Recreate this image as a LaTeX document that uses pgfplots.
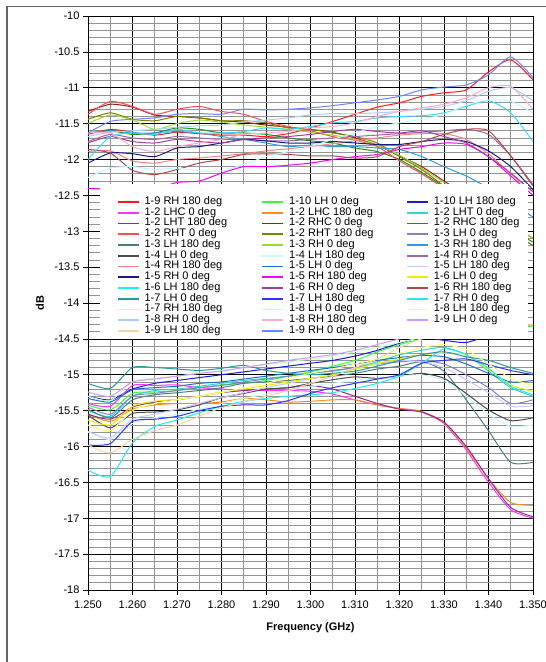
\documentclass[border=0pt]{standalone}
\usepackage{pgfplots}
\pgfplotsset{compat=1.18}
\usepackage{fontspec}
\setmainfont{Liberation Sans}
\definecolor{qB}{HTML}{FF1A1A}
\definecolor{qm}{HTML}{33FF33}
\definecolor{qj}{HTML}{1A1AD9}
\definecolor{qd}{HTML}{FF33FF}
\definecolor{qc}{HTML}{FF8C1A}
\definecolor{qt}{HTML}{33D6D6}
\definecolor{qe}{HTML}{8B2E8B}
\definecolor{qD}{HTML}{A01818}
\definecolor{qH}{HTML}{1E8C1E}
\definecolor{qC}{HTML}{FF4D4D}
\definecolor{qF}{HTML}{808000}
\definecolor{qs}{HTML}{8080CC}
\definecolor{qf}{HTML}{4D7F80}
\definecolor{qG}{HTML}{99DD33}
\definecolor{qI}{HTML}{3399DD}
\definecolor{qg}{HTML}{4D4D4D}
\definecolor{qh}{HTML}{C8FAFA}
\definecolor{qO}{HTML}{A066A0}
\definecolor{qR}{HTML}{FF8080}
\definecolor{qr}{HTML}{1A6FD0}
\definecolor{qo}{HTML}{C8C8FF}
\definecolor{qP}{HTML}{1A1A80}
\definecolor{qQ}{HTML}{FF00FF}
\definecolor{qk}{HTML}{EEEE00}
\definecolor{qb}{HTML}{1AF0F0}
\definecolor{qN}{HTML}{A040A0}
\definecolor{qE}{HTML}{B04848}
\definecolor{qa}{HTML}{2A9999}
\definecolor{qi}{HTML}{3333FF}
\definecolor{qJ}{HTML}{33DDFF}
\definecolor{qK}{HTML}{C0F8FF}
\definecolor{qn}{HTML}{C0FFC0}
\definecolor{ql}{HTML}{FFFF80}
\definecolor{qM}{HTML}{AACCFF}
\definecolor{qL}{HTML}{FFAAC8}
\definecolor{qp}{HTML}{CC99FF}
\definecolor{qq}{HTML}{FFD0A0}
\definecolor{qA}{HTML}{6688FF}
\newcommand{\legtxt}[1]{\makebox[117pt][l]{#1}}
\begin{document}
\begin{tikzpicture}
\path[use as bounding box] (0pt,0pt) rectangle (546pt,662pt);
\begin{axis}[
  at={(88pt,72pt)}, anchor=south west,
  width=445pt, height=574pt, scale only axis,
  xmin=1.25, xmax=1.35, ymin=-18, ymax=-10,
  xtick={1.25,1.26,1.27,1.28,1.29,1.30,1.31,1.32,1.33,1.34,1.35},
  xticklabels={1.250,1.260,1.270,1.280,1.290,1.300,1.310,1.320,1.330,1.340,1.350},
  ytick={-18,-17.5,-17,-16.5,-16,-15.5,-15,-14.5,-14,-13.5,-13,-12.5,-12,-11.5,-11,-10.5,-10},
  yticklabels={-18,-17.5,-17,-16.5,-16,-15.5,-15,-14.5,-14,-13.5,-13,-12.5,-12,-11.5,-11,-10.5,-10},
  minor x tick num=1, minor y tick num=4,
  grid=both,
  major grid style={black, line width=0.7pt},
  minor grid style={black!42, line width=0.7pt},
  axis line style={black, line width=0.8pt},
  tick align=outside, tick pos=left,
  major tick length=5pt, minor tick length=0pt,
  tick style={black, line width=0.7pt},
  ticklabel style={font=\fontsize{11}{13}\selectfont},
  xticklabel style={yshift=-2pt},
  xlabel={Frequency (GHz)}, ylabel={dB},
  label style={font=\bfseries\fontsize{11}{13}\selectfont},
  xlabel style={at={(axis description cs:0.5,-0.066)}, anchor=center},
  ylabel style={at={(axis description cs:-0.108,0.5)}, anchor=center},
  every axis plot/.append style={line width=1pt, smooth, tension=0.4},
  legend columns=3,
  legend cell align=left,
  legend style={at={(0.0652,0.6854)}, anchor=north west, draw=none, fill=none,
    inner sep=0pt, outer sep=0pt, row sep=0pt, column sep=0pt,
    /tikz/every odd column/.style={column sep=5pt},
    font=\fontsize{11}{13}\selectfont,
    nodes={inner sep=0pt, text height=7.9pt, text depth=2.85pt}},
  legend image code/.code={\draw[#1, line width=1.6pt] (0pt,0pt) -- (21pt,0pt);},
]
% 1-9 RH 180
\addplot[color=qB] coordinates {(1.250,-11.65)(1.255,-11.58)(1.260,-11.62)(1.265,-11.66)(1.270,-11.62)(1.275,-11.64)(1.280,-11.66)(1.285,-11.66)(1.290,-11.68)(1.295,-11.64)(1.300,-11.56)(1.305,-11.47)(1.310,-11.37)(1.315,-11.27)(1.320,-11.21)(1.325,-11.12)(1.330,-11.07)(1.335,-11.03)(1.340,-10.78)(1.345,-10.61)(1.350,-10.89)};
\addlegendentry{\legtxt{1-9 RH 180 deg}}
% 1-10 LH 0
\addplot[color=qm] coordinates {(1.250,-15.42)(1.255,-15.49)(1.260,-15.26)(1.265,-15.24)(1.270,-15.22)(1.275,-15.18)(1.280,-15.14)(1.285,-15.12)(1.290,-15.08)(1.295,-15.02)(1.300,-14.96)(1.305,-14.88)(1.310,-14.80)(1.315,-14.68)(1.320,-14.58)(1.325,-14.50)(1.330,-14.45)(1.335,-14.42)(1.340,-14.38)(1.345,-14.35)(1.350,-14.32)};
\addlegendentry{\legtxt{1-10 LH 0 deg}}
% 1-10 LH 180
\addplot[color=qj] coordinates {(1.250,-15.30)(1.255,-15.35)(1.260,-15.20)(1.265,-15.12)(1.270,-15.08)(1.275,-15.04)(1.280,-15.00)(1.285,-14.96)(1.290,-14.92)(1.295,-14.88)(1.300,-14.84)(1.305,-14.80)(1.310,-14.74)(1.315,-14.66)(1.320,-14.56)(1.325,-14.48)(1.330,-14.52)(1.335,-14.55)(1.340,-14.45)(1.345,-14.35)(1.350,-14.30)};
\addlegendentry{\legtxt{1-10 LH 180 deg}}
% 1-2 LHC 0
\addplot[color=qd] coordinates {(1.250,-15.40)(1.255,-15.44)(1.260,-15.15)(1.265,-15.15)(1.270,-15.14)(1.275,-15.18)(1.280,-15.20)(1.285,-15.22)(1.290,-15.22)(1.295,-15.22)(1.300,-15.23)(1.305,-15.27)(1.310,-15.35)(1.315,-15.42)(1.320,-15.47)(1.325,-15.52)(1.330,-15.68)(1.335,-16.05)(1.340,-16.50)(1.345,-16.88)(1.350,-17.00)};
\addlegendentry{\legtxt{1-2 LHC 0 deg}}
% 1-2 LHC 180
\addplot[color=qc] coordinates {(1.250,-15.55)(1.255,-15.65)(1.260,-15.48)(1.265,-15.42)(1.270,-15.40)(1.275,-15.40)(1.280,-15.38)(1.285,-15.33)(1.290,-15.35)(1.295,-15.38)(1.300,-15.37)(1.305,-15.35)(1.310,-15.35)(1.315,-15.42)(1.320,-15.47)(1.325,-15.51)(1.330,-15.67)(1.335,-16.02)(1.340,-16.45)(1.345,-16.78)(1.350,-16.82)};
\addlegendentry{\legtxt{1-2 LHC 180 deg}}
% 1-2 LHT 0
\addplot[color=qt] coordinates {(1.250,-15.50)(1.255,-15.58)(1.260,-15.30)(1.265,-15.22)(1.270,-15.20)(1.275,-15.16)(1.280,-15.12)(1.285,-15.08)(1.290,-15.05)(1.295,-15.02)(1.300,-14.98)(1.305,-14.95)(1.310,-14.90)(1.315,-14.82)(1.320,-14.72)(1.325,-14.66)(1.330,-14.62)(1.335,-14.72)(1.340,-14.95)(1.345,-15.18)(1.350,-15.30)};
\addlegendentry{\legtxt{1-2 LHT 0 deg}}
% 1-2 LHT 180
\addplot[color=qe] coordinates {(1.250,-15.55)(1.255,-15.62)(1.260,-15.45)(1.265,-15.38)(1.270,-15.35)(1.275,-15.30)(1.280,-15.25)(1.285,-15.22)(1.290,-15.20)(1.295,-15.18)(1.300,-15.15)(1.305,-15.20)(1.310,-15.30)(1.315,-15.40)(1.320,-15.48)(1.325,-15.52)(1.330,-15.66)(1.335,-16.00)(1.340,-16.45)(1.345,-16.85)(1.350,-16.98)};
\addlegendentry{\legtxt{1-2 LHT 180 deg}}
% 1-2 RHC 0
\addplot[color=qD] coordinates {(1.250,-11.33)(1.255,-11.23)(1.260,-11.27)(1.265,-11.38)(1.270,-11.40)(1.275,-11.42)(1.280,-11.46)(1.285,-11.48)(1.290,-11.52)(1.295,-11.55)(1.300,-11.58)(1.305,-11.62)(1.310,-11.70)(1.315,-11.80)(1.320,-11.95)(1.325,-12.10)(1.330,-12.30)(1.335,-12.50)(1.340,-12.70)(1.345,-12.90)(1.350,-13.10)};
\addlegendentry{\legtxt{1-2 RHC 0 deg}}
% 1-2 RHC 180
\addplot[color=qH] coordinates {(1.250,-11.63)(1.255,-11.60)(1.260,-11.65)(1.265,-11.63)(1.270,-11.56)(1.275,-11.58)(1.280,-11.63)(1.285,-11.63)(1.290,-11.65)(1.295,-11.70)(1.300,-11.74)(1.305,-11.77)(1.310,-11.84)(1.315,-11.89)(1.320,-12.00)(1.325,-12.18)(1.330,-12.38)(1.335,-12.58)(1.340,-12.78)(1.345,-12.98)(1.350,-13.15)};
\addlegendentry{\legtxt{1-2 RHC 180 deg}}
% 1-2 RHT 0
\addplot[color=qC] coordinates {(1.250,-11.37)(1.255,-11.19)(1.260,-11.26)(1.265,-11.37)(1.270,-11.30)(1.275,-11.26)(1.280,-11.33)(1.285,-11.37)(1.290,-11.47)(1.295,-11.54)(1.300,-11.60)(1.305,-11.68)(1.310,-11.73)(1.315,-11.82)(1.320,-12.02)(1.325,-12.20)(1.330,-12.40)(1.335,-12.60)(1.340,-12.80)(1.345,-13.00)(1.350,-13.20)};
\addlegendentry{\legtxt{1-2 RHT 0 deg}}
% 1-2 RHT 180
\addplot[color=qF] coordinates {(1.250,-11.44)(1.255,-11.35)(1.260,-11.44)(1.265,-11.46)(1.270,-11.40)(1.275,-11.42)(1.280,-11.46)(1.285,-11.46)(1.290,-11.49)(1.295,-11.56)(1.300,-11.58)(1.305,-11.63)(1.310,-11.68)(1.315,-11.77)(1.320,-11.96)(1.325,-12.14)(1.330,-12.37)(1.335,-12.60)(1.340,-12.80)(1.345,-13.00)(1.350,-13.20)};
\addlegendentry{\legtxt{1-2 RHT 180 deg}}
% 1-3 LH 0
\addplot[color=qs] coordinates {(1.250,-15.45)(1.255,-15.55)(1.260,-15.30)(1.265,-15.26)(1.270,-15.22)(1.275,-15.18)(1.280,-15.15)(1.285,-15.10)(1.290,-15.06)(1.295,-15.02)(1.300,-14.98)(1.305,-14.94)(1.310,-14.90)(1.315,-14.85)(1.320,-14.82)(1.325,-14.80)(1.330,-14.85)(1.335,-15.00)(1.340,-15.18)(1.345,-15.40)(1.350,-15.35)};
\addlegendentry{\legtxt{1-3 LH 0 deg}}
% 1-3 LH 180
\addplot[color=qf] coordinates {(1.250,-15.48)(1.255,-15.60)(1.260,-15.35)(1.265,-15.28)(1.270,-15.25)(1.275,-15.22)(1.280,-15.18)(1.285,-15.12)(1.290,-15.10)(1.295,-15.08)(1.300,-15.05)(1.305,-15.02)(1.310,-14.98)(1.315,-14.92)(1.320,-14.88)(1.325,-14.82)(1.330,-14.95)(1.335,-15.35)(1.340,-15.78)(1.345,-16.22)(1.350,-16.22)};
\addlegendentry{\legtxt{1-3 LH 180 deg}}
% 1-3 RH 0
\addplot[color=qG] coordinates {(1.250,-11.50)(1.255,-11.38)(1.260,-11.45)(1.265,-11.58)(1.270,-11.50)(1.275,-11.45)(1.280,-11.48)(1.285,-11.52)(1.290,-11.55)(1.295,-11.58)(1.300,-11.62)(1.305,-11.66)(1.310,-11.72)(1.315,-11.80)(1.320,-11.94)(1.325,-12.12)(1.330,-12.32)(1.335,-12.52)(1.340,-12.72)(1.345,-12.92)(1.350,-13.10)};
\addlegendentry{\legtxt{1-3 RH 0 deg}}
% 1-3 RH 180
\addplot[color=qI] coordinates {(1.250,-11.63)(1.255,-11.60)(1.260,-11.63)(1.265,-11.63)(1.270,-11.61)(1.275,-11.63)(1.280,-11.68)(1.285,-11.72)(1.290,-11.77)(1.295,-11.82)(1.300,-11.80)(1.305,-11.82)(1.310,-11.82)(1.315,-11.84)(1.320,-11.86)(1.325,-11.96)(1.330,-12.10)(1.335,-12.23)(1.340,-12.40)(1.345,-12.60)(1.350,-12.80)};
\addlegendentry{\legtxt{1-3 RH 180 deg}}
% 1-4 LH 0
\addplot[color=qg] coordinates {(1.250,-15.56)(1.255,-15.74)(1.260,-15.54)(1.265,-15.52)(1.270,-15.49)(1.275,-15.42)(1.280,-15.32)(1.285,-15.26)(1.290,-15.20)(1.295,-15.18)(1.300,-15.12)(1.305,-15.07)(1.310,-15.03)(1.315,-15.05)(1.320,-15.02)(1.325,-14.98)(1.330,-15.05)(1.335,-15.26)(1.340,-15.49)(1.345,-15.64)(1.350,-15.60)};
\addlegendentry{\legtxt{1-4 LH 0 deg}}
% 1-4 LH 180
\addplot[color=qh] coordinates {(1.250,-15.80)(1.255,-15.90)(1.260,-15.68)(1.265,-15.60)(1.270,-15.55)(1.275,-15.48)(1.280,-15.40)(1.285,-15.33)(1.290,-15.27)(1.295,-15.22)(1.300,-15.16)(1.305,-15.12)(1.310,-15.08)(1.315,-15.06)(1.320,-15.02)(1.325,-15.00)(1.330,-15.08)(1.335,-15.30)(1.340,-15.55)(1.345,-15.72)(1.350,-15.70)};
\addlegendentry{\legtxt{1-4 LH 180 deg}}
% 1-4 RH 0
\addplot[color=qO] coordinates {(1.250,-11.75)(1.255,-11.65)(1.260,-11.70)(1.265,-11.72)(1.270,-11.68)(1.275,-11.70)(1.280,-11.72)(1.285,-11.72)(1.290,-11.74)(1.295,-11.74)(1.300,-11.72)(1.305,-11.70)(1.310,-11.68)(1.315,-11.66)(1.320,-11.64)(1.325,-11.62)(1.330,-11.60)(1.335,-11.58)(1.340,-11.65)(1.345,-11.95)(1.350,-12.35)};
\addlegendentry{\legtxt{1-4 RH 0 deg}}
% 1-4 RH 180
\addplot[color=qR] coordinates {(1.250,-11.89)(1.255,-11.88)(1.260,-12.02)(1.265,-12.05)(1.270,-12.00)(1.275,-11.98)(1.280,-11.95)(1.285,-11.92)(1.290,-11.88)(1.295,-11.85)(1.300,-11.82)(1.305,-11.78)(1.310,-11.74)(1.315,-11.70)(1.320,-11.66)(1.325,-11.64)(1.330,-11.64)(1.335,-11.72)(1.340,-11.92)(1.345,-12.20)(1.350,-12.45)};
\addlegendentry{\legtxt{1-4 RH 180 deg}}
% 1-5 LH 0
\addplot[color=qr] coordinates {(1.250,-15.33)(1.255,-15.38)(1.260,-15.21)(1.265,-15.18)(1.270,-15.16)(1.275,-15.12)(1.280,-15.10)(1.285,-15.06)(1.290,-15.02)(1.295,-14.98)(1.300,-14.94)(1.305,-14.90)(1.310,-14.85)(1.315,-14.80)(1.320,-14.76)(1.325,-14.73)(1.330,-14.75)(1.335,-14.85)(1.340,-14.98)(1.345,-15.10)(1.350,-15.08)};
\addlegendentry{\legtxt{1-5 LH 0 deg}}
% 1-5 LH 180
\addplot[color=qo] coordinates {(1.250,-15.79)(1.255,-15.88)(1.260,-15.62)(1.265,-15.55)(1.270,-15.48)(1.275,-15.40)(1.280,-15.32)(1.285,-15.25)(1.290,-15.18)(1.295,-15.12)(1.300,-15.06)(1.305,-15.00)(1.310,-14.92)(1.315,-14.85)(1.320,-14.80)(1.325,-14.82)(1.330,-14.90)(1.335,-15.07)(1.340,-15.25)(1.345,-15.44)(1.350,-15.43)};
\addlegendentry{\legtxt{1-5 LH 180 deg}}
% 1-5 RH 0
\addplot[color=qP] coordinates {(1.250,-12.05)(1.255,-11.91)(1.260,-11.92)(1.265,-11.96)(1.270,-11.84)(1.275,-11.82)(1.280,-11.77)(1.285,-11.72)(1.290,-11.74)(1.295,-11.77)(1.300,-11.77)(1.305,-11.75)(1.310,-11.77)(1.315,-11.79)(1.320,-11.79)(1.325,-11.75)(1.330,-11.72)(1.335,-11.75)(1.340,-11.88)(1.345,-12.10)(1.350,-12.42)};
\addlegendentry{\legtxt{1-5 RH 0 deg}}
% 1-5 RH 180
\addplot[color=qQ] coordinates {(1.250,-12.40)(1.255,-12.42)(1.260,-12.44)(1.265,-12.42)(1.270,-12.32)(1.275,-12.30)(1.280,-12.19)(1.285,-12.10)(1.290,-12.10)(1.295,-12.08)(1.300,-12.05)(1.305,-12.00)(1.310,-11.96)(1.315,-11.93)(1.320,-11.86)(1.325,-11.82)(1.330,-11.77)(1.335,-11.79)(1.340,-11.96)(1.345,-12.23)(1.350,-12.50)};
\addlegendentry{\legtxt{1-5 RH 180 deg}}
% 1-6 LH 0
\addplot[color=qk] coordinates {(1.250,-15.63)(1.255,-15.70)(1.260,-15.44)(1.265,-15.37)(1.270,-15.34)(1.275,-15.30)(1.280,-15.24)(1.285,-15.20)(1.290,-15.15)(1.295,-15.10)(1.300,-15.05)(1.305,-15.00)(1.310,-14.92)(1.315,-14.84)(1.320,-14.78)(1.325,-14.72)(1.330,-14.70)(1.335,-14.72)(1.340,-14.93)(1.345,-15.14)(1.350,-15.23)};
\addlegendentry{\legtxt{1-6 LH 0 deg}}
% 1-6 LH 180
\addplot[color=qb] coordinates {(1.250,-16.33)(1.255,-16.42)(1.260,-15.95)(1.265,-15.72)(1.270,-15.63)(1.275,-15.53)(1.280,-15.44)(1.285,-15.37)(1.290,-15.33)(1.295,-15.30)(1.300,-15.28)(1.305,-15.25)(1.310,-15.19)(1.315,-15.12)(1.320,-15.02)(1.325,-14.84)(1.330,-14.64)(1.335,-14.72)(1.340,-14.91)(1.345,-15.16)(1.350,-15.28)};
\addlegendentry{\legtxt{1-6 LH 180 deg}}
% 1-6 RH 0
\addplot[color=qN] coordinates {(1.250,-11.77)(1.255,-11.68)(1.260,-11.75)(1.265,-11.77)(1.270,-11.72)(1.275,-11.75)(1.280,-11.77)(1.285,-11.72)(1.290,-11.70)(1.295,-11.68)(1.300,-11.65)(1.305,-11.61)(1.310,-11.58)(1.315,-11.61)(1.320,-11.63)(1.325,-11.60)(1.330,-11.68)(1.335,-11.77)(1.340,-11.96)(1.345,-12.19)(1.350,-12.45)};
\addlegendentry{\legtxt{1-6 RH 0 deg}}
% 1-6 RH 180
\addplot[color=qE] coordinates {(1.250,-11.86)(1.255,-11.91)(1.260,-12.15)(1.265,-12.21)(1.270,-12.14)(1.275,-12.05)(1.280,-12.00)(1.285,-11.93)(1.290,-11.92)(1.295,-11.93)(1.300,-11.95)(1.305,-11.95)(1.310,-11.98)(1.315,-11.96)(1.320,-11.82)(1.325,-11.75)(1.330,-11.65)(1.335,-11.58)(1.340,-11.60)(1.345,-11.95)(1.350,-12.37)};
\addlegendentry{\legtxt{1-6 RH 180 deg}}
% 1-7 LH 0
\addplot[color=qa] coordinates {(1.250,-15.12)(1.255,-15.19)(1.260,-14.90)(1.265,-14.90)(1.270,-14.92)(1.275,-14.94)(1.280,-14.91)(1.285,-14.87)(1.290,-14.94)(1.295,-14.98)(1.300,-15.00)(1.305,-14.98)(1.310,-14.95)(1.315,-14.88)(1.320,-14.80)(1.325,-14.72)(1.330,-14.68)(1.335,-14.75)(1.340,-14.80)(1.345,-14.90)(1.350,-14.98)};
\addlegendentry{\legtxt{1-7 LH 0 deg}}
% 1-7 LH 180
\addplot[color=qi] coordinates {(1.250,-15.98)(1.255,-15.96)(1.260,-15.65)(1.265,-15.62)(1.270,-15.58)(1.275,-15.50)(1.280,-15.44)(1.285,-15.42)(1.290,-15.42)(1.295,-15.36)(1.300,-15.26)(1.305,-15.18)(1.310,-15.12)(1.315,-15.06)(1.320,-15.00)(1.325,-14.84)(1.330,-14.80)(1.335,-14.78)(1.340,-14.86)(1.345,-14.94)(1.350,-15.00)};
\addlegendentry{\legtxt{1-7 LH 180 deg}}
% 1-7 RH 0
\addplot[color=qJ] coordinates {(1.250,-12.00)(1.255,-11.68)(1.260,-11.63)(1.265,-11.65)(1.270,-11.58)(1.275,-11.63)(1.280,-11.63)(1.285,-11.61)(1.290,-11.56)(1.295,-11.58)(1.300,-11.54)(1.305,-11.49)(1.310,-11.47)(1.315,-11.42)(1.320,-11.40)(1.325,-11.39)(1.330,-11.35)(1.335,-11.26)(1.340,-11.18)(1.345,-11.35)(1.350,-11.75)};
\addlegendentry{\legtxt{1-7 RH 0 deg}}
% 1-7 RH 180
\addplot[color=qK] coordinates {(1.250,-12.25)(1.255,-12.12)(1.260,-12.10)(1.265,-12.14)(1.270,-12.12)(1.275,-12.16)(1.280,-12.16)(1.285,-12.07)(1.290,-11.96)(1.295,-11.89)(1.300,-11.82)(1.305,-11.72)(1.310,-11.63)(1.315,-11.54)(1.320,-11.49)(1.325,-11.44)(1.330,-11.37)(1.335,-11.24)(1.340,-11.17)(1.345,-11.19)(1.350,-11.35)};
\addlegendentry{\legtxt{1-7 RH 180 deg}}
% 1-8 LH 0
\addplot[color=qn] coordinates {(1.250,-15.30)(1.255,-15.36)(1.260,-15.10)(1.265,-15.05)(1.270,-15.02)(1.275,-14.98)(1.280,-14.94)(1.285,-14.90)(1.290,-14.86)(1.295,-14.82)(1.300,-14.78)(1.305,-14.74)(1.310,-14.68)(1.315,-14.62)(1.320,-14.55)(1.325,-14.48)(1.330,-14.42)(1.335,-14.38)(1.340,-14.35)(1.345,-14.32)(1.350,-14.30)};
\addlegendentry{\legtxt{1-8 LH 0 deg}}
% 1-8 LH 180
\addplot[color=ql] coordinates {(1.250,-15.70)(1.255,-15.78)(1.260,-15.50)(1.265,-15.40)(1.270,-15.35)(1.275,-15.30)(1.280,-15.25)(1.285,-15.18)(1.290,-15.12)(1.295,-15.05)(1.300,-14.98)(1.305,-14.92)(1.310,-14.85)(1.315,-14.78)(1.320,-14.70)(1.325,-14.62)(1.330,-14.58)(1.335,-14.65)(1.340,-14.85)(1.345,-15.05)(1.350,-15.15)};
\addlegendentry{\legtxt{1-8 LH 180 deg}}
% 1-8 RH 0
\addplot[color=qM] coordinates {(1.250,-11.68)(1.255,-11.62)(1.260,-11.60)(1.265,-11.58)(1.270,-11.55)(1.275,-11.53)(1.280,-11.52)(1.285,-11.48)(1.290,-11.45)(1.295,-11.42)(1.300,-11.38)(1.305,-11.36)(1.310,-11.36)(1.315,-11.35)(1.320,-11.33)(1.325,-11.30)(1.330,-11.26)(1.335,-11.18)(1.340,-11.05)(1.345,-11.00)(1.350,-11.18)};
\addlegendentry{\legtxt{1-8 RH 0 deg}}
% 1-8 RH 180
\addplot[color=qL] coordinates {(1.250,-11.63)(1.255,-11.63)(1.260,-11.82)(1.265,-11.89)(1.270,-11.82)(1.275,-11.77)(1.280,-11.72)(1.285,-11.65)(1.290,-11.63)(1.295,-11.61)(1.300,-11.56)(1.305,-11.54)(1.310,-11.49)(1.315,-11.40)(1.320,-11.33)(1.325,-11.28)(1.330,-11.23)(1.335,-11.14)(1.340,-11.00)(1.345,-10.98)(1.350,-11.30)};
\addlegendentry{\legtxt{1-8 RH 180 deg}}
% 1-9 LH 0
\addplot[color=qp] coordinates {(1.250,-15.24)(1.255,-15.30)(1.260,-15.10)(1.265,-15.06)(1.270,-15.02)(1.275,-14.98)(1.280,-14.95)(1.285,-14.90)(1.290,-14.85)(1.295,-14.80)(1.300,-14.76)(1.305,-14.72)(1.310,-14.66)(1.315,-14.58)(1.320,-14.50)(1.325,-14.44)(1.330,-14.40)(1.335,-14.36)(1.340,-14.34)(1.345,-14.32)(1.350,-14.30)};
\addlegendentry{\legtxt{1-9 LH 0 deg}}
% 1-9 LH 180
\addplot[color=qq] coordinates {(1.250,-15.98)(1.255,-16.09)(1.260,-15.90)(1.265,-15.78)(1.270,-15.70)(1.275,-15.58)(1.280,-15.46)(1.285,-15.38)(1.290,-15.30)(1.295,-15.22)(1.300,-15.12)(1.305,-15.02)(1.310,-14.90)(1.315,-14.78)(1.320,-14.62)(1.325,-14.50)(1.330,-14.44)(1.335,-14.40)(1.340,-14.36)(1.345,-14.33)(1.350,-14.30)};
\addlegendentry{\legtxt{1-9 LH 180 deg}}
% 1-9 RH 0
\addplot[color=qA] coordinates {(1.250,-11.63)(1.255,-11.47)(1.260,-11.44)(1.265,-11.42)(1.270,-11.37)(1.275,-11.36)(1.280,-11.37)(1.285,-11.30)(1.290,-11.31)(1.295,-11.30)(1.300,-11.28)(1.305,-11.25)(1.310,-11.21)(1.315,-11.17)(1.320,-11.12)(1.325,-11.03)(1.330,-10.99)(1.335,-10.96)(1.340,-10.82)(1.345,-10.57)(1.350,-10.86)};
\addlegendentry{\legtxt{1-9 RH 0 deg}}
\fill[white] (rel axis cs:0.02697,0.4373) rectangle (rel axis cs:0.98876,0.7073);
\end{axis}
\draw[line width=1.2pt, black!60] (7pt,0pt) -- (7pt,655.5pt) -- (546pt,655.5pt);
\end{tikzpicture}
\end{document}
